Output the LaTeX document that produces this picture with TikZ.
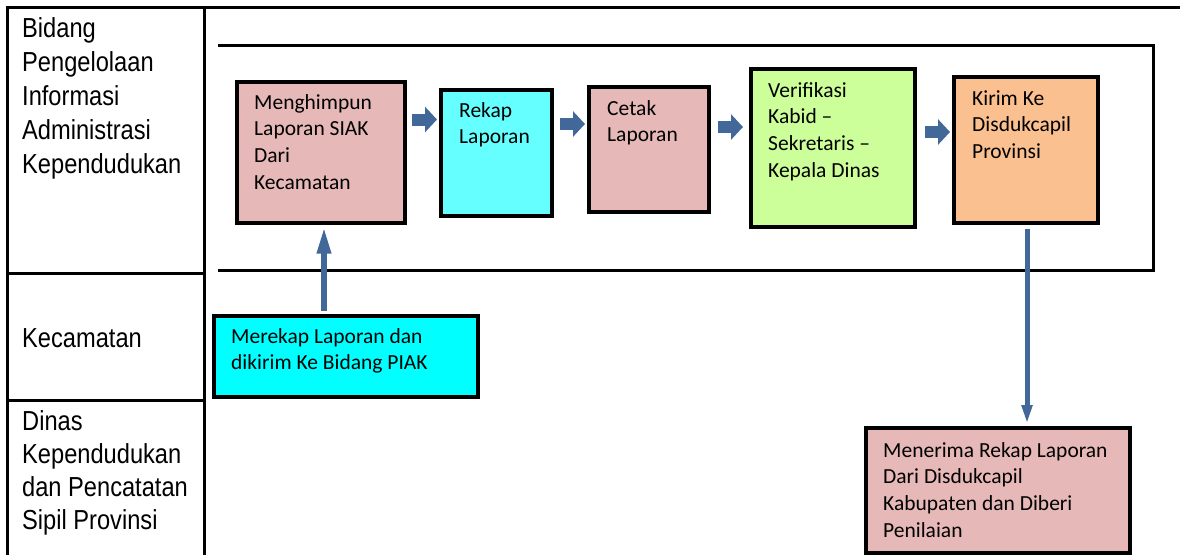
\documentclass[tikz,border=0pt]{standalone}
\usepackage{fontspec}
\usetikzlibrary{arrows.meta}
\newfontfamily\boxfont{Carlito}
\newfontfamily\lanefont[FakeStretch=0.86]{Liberation Sans}
\definecolor{pinkbox}{HTML}{E6B9B8}
\definecolor{cyanA}{HTML}{66FFFF}
\definecolor{cyanB}{HTML}{00FFFF}
\definecolor{greenbox}{HTML}{CCFF99}
\definecolor{orangebox}{HTML}{FAC090}
\definecolor{arrowblue}{RGB}{65,104,152}
\tikzset{
  proc/.style={draw=black, line width=3.5pt, inner sep=0pt, anchor=north west},
  boxtxt/.style={anchor=base west, inner sep=0pt, align=left,
    font=\boxfont\fontsize{21.5pt}{26.8pt}\selectfont},
  lanetxt/.style={anchor=base west, inner sep=0pt, align=left,
    font=\lanefont\fontsize{27.5pt}{34pt}\selectfont},
  tableline/.style={line width=3pt, black},
  blockarrow/.style={draw=arrowblue, line width=12pt,
    -{Triangle[width=25pt,length=12pt]}},
  uparrow/.style={draw=arrowblue, line width=6pt,
    -{Triangle[width=13pt,length=27pt]}},
  downarrow/.style={draw=arrowblue, line width=5pt,
    -{Triangle[width=10pt,length=19pt]}}
}
\begin{document}
\begin{tikzpicture}[x=1pt,y=-1pt]
\useasboundingbox (0,0) rectangle (1180,555);
% table
\draw[tableline] (5.5,7) -- (1180,7);
\draw[tableline] (7,7) -- (7,555);
\draw[tableline] (204,7) -- (204,555);
\draw[tableline] (7,273) -- (204,273);
\draw[tableline] (7,400) -- (204,400);
% lane
\draw[tableline, line cap=rect] (219,45) -- (1153,45) -- (1153,270) -- (219,270);
% lane labels (anchored at the baseline of the last line)
\node[lanetxt] (l1) at (22,173) {Bidang\\Pengelolaan\\Informasi\\Administrasi\\Kependudukan};
\node[lanetxt] (l2) at (22,347) {Kecamatan};
\node[lanetxt, font=\lanefont\fontsize{27.5pt}{33pt}\selectfont] (l3) at (22,529) {Dinas\\Kependudukan\\dan Pencatatan\\Sipil Provinsi};
% boxes
\node[proc, fill=pinkbox, minimum width=168pt, minimum height=141pt] (b1) at (235,80) {};
\node[proc, fill=cyanA, minimum width=111pt, minimum height=126pt] (b2) at (439,88) {};
\node[proc, fill=pinkbox, minimum width=120pt, minimum height=125pt] (b3) at (587,85) {};
\node[proc, fill=greenbox, minimum width=164pt, minimum height=158pt] (b4) at (749,67) {};
\node[proc, fill=orangebox, minimum width=144pt, minimum height=146pt] (b5) at (952,75) {};
\node[proc, fill=cyanB, minimum width=264pt, minimum height=81pt] (kec) at (212,314) {};
\node[proc, fill=pinkbox, minimum width=264pt, minimum height=125pt] (prov) at (864,426) {};
% box texts (anchored at the baseline of the last line)
\node[boxtxt] (t1) at (254,189.4) {Menghimpun\\Laporan SIAK\\Dari\\Kecamatan};
\node[boxtxt] (t2) at (459,143.8) {Rekap\\Laporan};
\node[boxtxt] (t3) at (607,141.8) {Cetak\\Laporan};
\node[boxtxt] (t4) at (768,177.4) {Verifikasi\\Kabid –\\Sekretaris –\\Kepala Dinas};
\node[boxtxt] (t5) at (972,158.6) {Kirim Ke\\Disdukcapil\\Provinsi};
\node[boxtxt] (t6) at (231,369.8) {Merekap Laporan dan\\dikirim Ke Bidang PIAK};
\node[boxtxt] (t7) at (883,537.4) {Menerima Rekap Laporan\\Dari Disdukcapil\\Kabupaten dan Diberi\\Penilaian};
% arrows
\coordinate (h1) at (0,119.5);
\coordinate (h2) at (0,124);
\coordinate (h3) at (0,127);
\coordinate (h4) at (0,132);
\coordinate (ux) at (324,0);
\coordinate (dx) at (1027,0);
\draw[blockarrow, shorten <=5pt, shorten >=2pt] (b1.east |- h1) -- (b2.west |- h1);
\draw[blockarrow, shorten <=6pt, shorten >=2pt] (b2.east |- h2) -- (b3.west |- h2);
\draw[blockarrow, shorten <=7pt, shorten >=6pt] (b3.east |- h3) -- (b4.west |- h3);
\draw[blockarrow, shorten <=8pt, shorten >=2pt] (b4.east |- h4) -- (b5.west |- h4);
\draw[uparrow, shorten <=3pt, shorten >=2pt] (kec.north -| ux) -- (b1.south -| ux);
\draw[downarrow, shorten <=4pt, shorten >=2pt] (b5.south -| dx) -- (prov.north -| dx);
\end{tikzpicture}
\end{document}
